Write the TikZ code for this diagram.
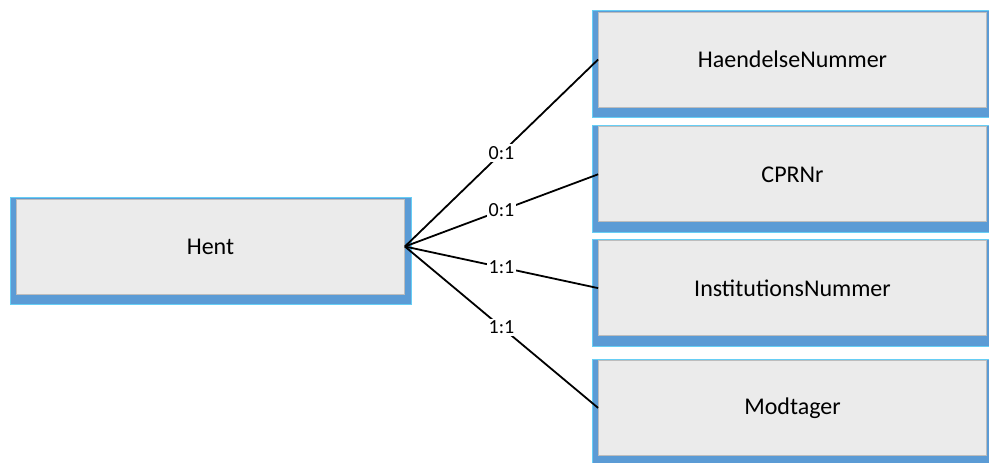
\documentclass[tikz,border=0pt]{standalone}
\usepackage{fontspec}
\setmainfont{Carlito}
\usetikzlibrary{positioning, backgrounds}

\definecolor{shadowblue}{HTML}{5B9BD5}
\definecolor{facegray}{HTML}{EBEBEB}
\definecolor{edgegray}{HTML}{BDBDBD}

\begin{document}
\begin{tikzpicture}[x=1pt, y=1pt]
	\tikzset{
		entity/.style={rectangle, draw=edgegray, fill=facegray, minimum width=194pt, minimum height=47.5pt, font=\fontsize{12}{14}\selectfont},
		card/.style={fill=white, inner sep=1pt, font=\fontsize{10}{12}\selectfont},
		link/.style={line width=0.9pt}
	}
	\useasboundingbox (0,0) rectangle (494.5,-231);

	\node[entity] (Hent) at (105.25,-123.25) {Hent};
	\node[entity] (Haendelse) at (396.25,-29.75) {HaendelseNummer};
	\node[entity, below=9.5pt of Haendelse] (CPR) {CPRNr};
	\node[entity, below=9pt of CPR] (Inst) {InstitutionsNummer};
	\node[entity, below=12pt of Inst] (Modtager) {Modtager};

	% blue shadow behind every box
	\begin{scope}[on background layer]
		\foreach \n in {Hent, Haendelse, CPR, Inst, Modtager}
			\fill[shadowblue, draw=cyan!60, line width=0.4pt] ([xshift=-3pt, yshift=0.5pt]\n.north west) rectangle ([xshift=3pt, yshift=-5pt]\n.south east);
	\end{scope}

	\draw[link] (Hent.east) -- node[card] {0:1} (Haendelse.west);
	\draw[link] (Hent.east) -- node[card] {0:1} (CPR.west);
	\draw[link] (Hent.east) -- node[card] {1:1} (Inst.west);
	\draw[link] (Hent.east) -- node[card] {1:1} (Modtager.west);
\end{tikzpicture}
\end{document}
